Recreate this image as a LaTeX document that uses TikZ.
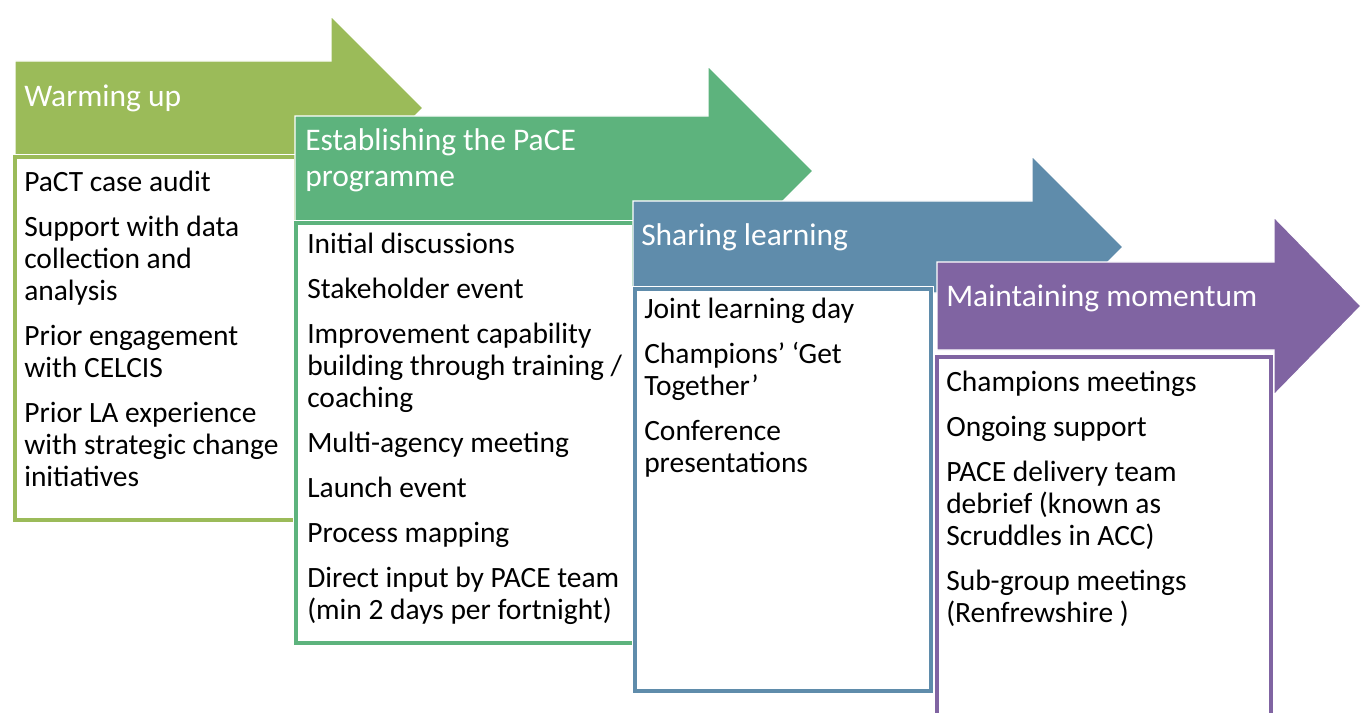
\documentclass[tikz,border=0pt]{standalone}
\usepackage{fontspec}
\setmainfont{Carlito}
\definecolor{warmgreen}{HTML}{9BBB59}
\definecolor{pacegreen}{HTML}{5DB37D}
\definecolor{shareblue}{HTML}{5F8CAB}
\definecolor{keeppurple}{HTML}{8064A2}

\begin{document}
\begin{tikzpicture}[x=0.75pt,y=-0.75pt,
  stage/.style={fill=#1,draw=white,line width=1pt},
  listbox/.style={fill=white,draw=#1,line width=3pt,preaction={draw=white,line width=4.5pt}},
  head/.style={anchor=north west,inner sep=0pt,text=white,align=left,font=\fontsize{23.6}{27}\selectfont},
  list/.style={anchor=north west,inner sep=0pt,text=black,align=left,font=\fontsize{22.1}{24}\selectfont}]

  \useasboundingbox (0,0) rectangle (1361,713);
  \clip (0,0) rectangle (1361,713);

  \path[stage=warmgreen] (15,61) -- (331,61) -- (331,16) -- (423,108) -- (331,200) -- (331,155) -- (15,155) -- cycle;
  \path[listbox=warmgreen] (15,157) rectangle (296,520);
  \node[head] (warmup) at (24,81) {\strut Warming up};
  \node[list] (warmuplist) at (24,169) {\strut PaCT case audit\\[9.75pt]
    Support with data\\collection and\\analysis\\[9.75pt]
    Prior engagement\\with CELCIS\\[9.75pt]
    Prior LA experience\\with strategic change\\initiatives};

  \path[stage=pacegreen] (295,116) -- (708,116) -- (708,66) -- (813,171) -- (708,276) -- (708,226) -- (295,226) -- cycle;
  \path[listbox=pacegreen] (296,223) rectangle (634,643);
  \node[head] (establish) at (305,125) {\strut Establishing the PaCE\\programme};
  \node[list] (establishlist) at (307,231) {\strut Initial discussions\\[9.75pt]
    Stakeholder event\\[9.75pt]
    Improvement capability\\building through training /\\coaching\\[9.75pt]
    Multi-agency meeting\\[9.75pt]
    Launch event\\[9.75pt]
    Process mapping\\[9.75pt]
    Direct input by PACE team\\(min 2 days per fortnight)};

  \path[stage=shareblue] (633,201) -- (1032,201) -- (1032,156) -- (1123,247) -- (1032,338) -- (1032,293) -- (633,293) -- cycle;
  \path[listbox=shareblue] (635,289) rectangle (931,691);
  \node[head] (sharing) at (641,220) {\strut Sharing learning};
  \node[list] (sharinglist) at (644,296) {\strut Joint learning day\\[9.75pt]
    Champions’ ‘Get\\Together’\\[9.75pt]
    Conference\\presentations};

  \path[stage=keeppurple] (937,262) -- (1274,262) -- (1274,217) -- (1361,306) -- (1274,395) -- (1274,350) -- (937,350) -- cycle;
  \path[listbox=keeppurple] (937,357) rectangle (1271,730);
  \node[head] (momentum) at (946,281) {\strut Maintaining momentum};
  \node[list] (momentumlist) at (946,369) {\strut Champions meetings\\[9.75pt]
    Ongoing support\\[9.75pt]
    PACE delivery team\\debrief (known as\\Scruddles in ACC)\\[9.75pt]
    Sub-group meetings\\(Renfrewshire )};

\end{tikzpicture}
\end{document}
